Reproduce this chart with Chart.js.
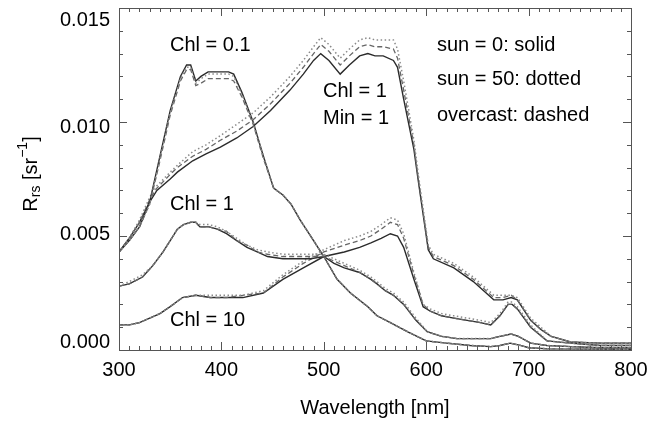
<!DOCTYPE html>
<html>
<head>
<meta charset="utf-8">
<script src="https://cdn.jsdelivr.net/npm/chart.js@4.4.1/dist/chart.umd.min.js"></script>
<style>
  html, body { margin: 0; padding: 0; background: #fff; }
  #wrap { width: 660px; height: 423px; }
</style>
</head>
<body>
<div id="wrap"><canvas id="rrs_chart" width="660" height="423"></canvas></div>
<script>
// tick labels
var wavelengthTicks = [300, 400, 500, 600, 700, 800];
var rrsTicks = [0.000, 0.005, 0.010, 0.015];

// Chl = 0.1
var chl01Wl = [300,310,320,330,340,350,360,366,370,375,380,387,395,407,412,420,431,441,451,460,468,477,490,500,513,526,543,552,565,582,600,620,643,663,672,682,692,700,720,760,800];
var chl01Solid  = [0.0043,0.0048,0.0054,0.0065,0.0085,0.0105,0.0120,0.0125,0.0125,0.0118,0.0120,0.0122,0.0122,0.0122,0.0121,0.0113,0.0100,0.0085,0.0071,0.0068,0.0064,0.0057,0.0048,0.0041,0.0031,0.0025,0.0019,0.0015,0.0012,0.0008,0.0004,0.0003,0.0002,0.00015,0.0002,0.0003,0.0002,0.0001,0.00005,0.00004,0.00003];
var chl01Dotted = [0.0043,0.0048,0.0054,0.0064,0.0084,0.0104,0.0119,0.0124,0.0124,0.0117,0.0119,0.0121,0.0121,0.0121,0.0120,0.0112,0.0100,0.0085,0.0071,0.0068,0.0064,0.0057,0.0048,0.0041,0.0031,0.0025,0.0019,0.0015,0.0012,0.0008,0.0004,0.0003,0.0002,0.00015,0.0002,0.0003,0.0002,0.0001,0.00005,0.00004,0.00003];
var chl01Dashed = [0.0043,0.0048,0.0054,0.0064,0.0083,0.0103,0.0118,0.0123,0.0123,0.0116,0.0117,0.0119,0.0119,0.0119,0.0118,0.0111,0.0099,0.0084,0.0071,0.0068,0.0064,0.0057,0.0048,0.0041,0.0031,0.0025,0.0019,0.0015,0.0012,0.0008,0.0004,0.0003,0.0002,0.00015,0.0002,0.0003,0.0002,0.0001,0.00005,0.00004,0.00003];

// Chl = 1
var chl1Wl = [300,310,323,333,343,350,357,363,370,375,379,388,396,405,415,425,435,445,460,475,487,500,510,520,535,546,552,560,568,578,590,601,615,630,645,663,672,683,690,702,718,741,770,800];
var chl1Solid  = [0.0028,0.0029,0.0032,0.0037,0.0043,0.0048,0.0053,0.0055,0.0056,0.0056,0.0054,0.0054,0.0053,0.0051,0.0048,0.0045,0.0043,0.0041,0.0040,0.0040,0.0040,0.0041,0.0038,0.0036,0.0034,0.0031,0.0029,0.0026,0.0024,0.0020,0.0013,0.0008,0.0006,0.0005,0.0005,0.0005,0.0006,0.0007,0.0006,0.0003,0.0002,0.00015,0.0001,0.0001];
var chl1Dotted = [0.0028,0.0030,0.0033,0.0037,0.0043,0.0048,0.0053,0.0055,0.0056,0.0056,0.0055,0.0055,0.0054,0.0052,0.0049,0.0046,0.0044,0.0043,0.0042,0.0042,0.0042,0.0042,0.0040,0.0038,0.0035,0.0032,0.0030,0.0027,0.0025,0.0021,0.0014,0.0008,0.0006,0.0005,0.0005,0.0005,0.0006,0.0007,0.0006,0.0003,0.0002,0.00015,0.0001,0.0001];
var chl1Dashed = [0.0028,0.0029,0.0032,0.0037,0.0043,0.0048,0.0053,0.0055,0.0056,0.0056,0.0054,0.0054,0.0053,0.0052,0.0048,0.0046,0.0043,0.0042,0.0041,0.0041,0.0041,0.0041,0.0039,0.0037,0.0034,0.0031,0.0029,0.0026,0.0024,0.0020,0.0013,0.0008,0.0006,0.0005,0.0005,0.0005,0.0006,0.0007,0.0006,0.0003,0.0002,0.00015,0.0001,0.0001];

// Chl = 10
var chl10Wl = [300,310,320,330,340,350,362,375,389,405,421,441,460,480,500,520,535,546,556,565,572,578,588,597,604,615,627,640,653,663,672,680,684,689,702,718,741,770,800];
var chl10Solid  = [0.0011,0.0011,0.0012,0.0014,0.0016,0.0019,0.0023,0.0024,0.0023,0.0023,0.0023,0.0025,0.0031,0.0036,0.0041,0.0043,0.0045,0.0047,0.0049,0.0051,0.0050,0.0045,0.0031,0.0019,0.0017,0.0015,0.0014,0.0013,0.0012,0.0011,0.0015,0.0020,0.0020,0.0018,0.0010,0.0004,0.0003,0.0002,0.0002];
var chl10Dotted = [0.0011,0.0011,0.0012,0.0014,0.0016,0.0019,0.0023,0.0024,0.0024,0.0024,0.0024,0.0026,0.0033,0.0039,0.0044,0.0048,0.0050,0.0052,0.0055,0.0058,0.0057,0.0051,0.0034,0.0020,0.0018,0.0016,0.0015,0.0014,0.0013,0.0012,0.0016,0.0021,0.0021,0.0019,0.0011,0.0004,0.0003,0.0002,0.0002];
var chl10Dashed = [0.0011,0.0011,0.0012,0.0014,0.0016,0.0019,0.0023,0.0024,0.0023,0.0023,0.0024,0.0025,0.0032,0.0038,0.0043,0.0046,0.0048,0.0050,0.0053,0.0056,0.0055,0.0049,0.0033,0.0020,0.0017,0.0015,0.0014,0.0013,0.0012,0.0011,0.0015,0.0020,0.0020,0.0018,0.0010,0.0004,0.0003,0.0002,0.0002];

// Chl = 1, Min = 1
var minWl = [300,310,320,330,337,350,357,372,385,399,415,431,448,467,480,490,497,505,516,525,535,543,550,558,568,572,578,588,592,602,607,627,646,666,675,683,689,702,712,722,741,770,800];
var minSolid  = [0.0043,0.0049,0.0056,0.0065,0.0070,0.0075,0.0078,0.0083,0.0086,0.0089,0.0093,0.0098,0.0105,0.0114,0.0121,0.0127,0.0130,0.0127,0.0121,0.0125,0.0129,0.0130,0.0129,0.0129,0.0127,0.0124,0.0110,0.0088,0.0075,0.0044,0.0040,0.0036,0.0030,0.0022,0.0022,0.0023,0.0022,0.0013,0.0009,0.0006,0.00035,0.0003,0.0003];
var minDotted = [0.0043,0.0049,0.0057,0.0067,0.0072,0.0078,0.0081,0.0087,0.0090,0.0094,0.0099,0.0104,0.0111,0.0120,0.0127,0.0133,0.0137,0.0134,0.0128,0.0132,0.0136,0.0137,0.0136,0.0136,0.0136,0.0132,0.0118,0.0092,0.0078,0.0046,0.0042,0.0038,0.0032,0.0024,0.0024,0.0024,0.0023,0.0014,0.0010,0.0006,0.00035,0.0003,0.0003];
var minDashed = [0.0043,0.0049,0.0056,0.0066,0.0071,0.0077,0.0080,0.0085,0.0088,0.0092,0.0096,0.0101,0.0108,0.0117,0.0124,0.0130,0.0134,0.0131,0.0125,0.0129,0.0133,0.0134,0.0133,0.0133,0.0132,0.0128,0.0114,0.0090,0.0076,0.0045,0.0041,0.0037,0.0031,0.0023,0.0023,0.0024,0.0022,0.0013,0.0009,0.0006,0.00035,0.0003,0.0003];

var FONT = '"Liberation Sans", Arial, Helvetica, sans-serif';

function pts(wl, vals) {
    return wl.map(function (w, i) { return {x: w, y: vals[i]}; });
}

function ds(wl, vals, style) {
    var d = {data: pts(wl, vals), pointRadius: 0, tension: 0, fill: false};
    if (style === 'dotted') {
        d.borderColor = '#8a8a8a'; d.borderWidth = 1.5; d.borderDash = [1.5, 2.5];
    } else if (style === 'dashed') {
        d.borderColor = '#666'; d.borderWidth = 1.3; d.borderDash = [5, 3];
    } else {
        d.borderColor = '#2b2b2b'; d.borderWidth = 1.4;
    }
    return d;
}

var frame = {
    id: 'frame',
    afterDatasetsDraw: function (chart) {
        var ctx = chart.ctx, a = chart.chartArea;
        var x = chart.scales.x, y = chart.scales.y;
        ctx.save();
        ctx.strokeStyle = '#555';
        ctx.lineWidth = 1;
        ctx.strokeRect(a.left + 0.5, a.top + 0.5, a.right - a.left, a.bottom - a.top);

        ctx.beginPath();
        for (var w = 300; w <= 800; w += 10) {
            var px = Math.round(x.getPixelForValue(w)) + 0.5;
            var len = (w % 100 === 0) ? 8 : 4;
            ctx.moveTo(px, a.bottom); ctx.lineTo(px, a.bottom - len);
            ctx.moveTo(px, a.top); ctx.lineTo(px, a.top + len);
        }
        for (var k = 0; k <= 15; k++) {
            var v = k * 0.001;
            var py = Math.round(y.getPixelForValue(v)) + 0.5;
            var l2 = (k % 5 === 0) ? 8 : 4;
            ctx.moveTo(a.left, py); ctx.lineTo(a.left + l2, py);
            ctx.moveTo(a.right, py); ctx.lineTo(a.right - l2, py);
        }
        ctx.stroke();

        ctx.fillStyle = '#000';
        ctx.font = '20px ' + FONT;
        ctx.textAlign = 'center';
        ctx.textBaseline = 'middle';
        wavelengthTicks.forEach(function (t) {
            ctx.fillText(String(t), x.getPixelForValue(t), a.bottom + 20);
        });
        ctx.textAlign = 'right';
        rrsTicks.forEach(function (t) {
            var py = y.getPixelForValue(t);
            var ly = a.top + 12 + (py - a.top) * (322 / 342);
            ctx.fillText(t.toFixed(3), a.left - 9, ly);
        });
        ctx.textAlign = 'center';
        ctx.fillText('Wavelength [nm]', (a.left + a.right) / 2, 408);

        // y title with sub/superscript
        ctx.save();
        ctx.translate(31, 174);
        ctx.rotate(-Math.PI / 2);
        var parts = [['R', 20, 0], ['rs', 14, 5], [' [sr', 20, 0], ['\u22121', 14, -8], [']', 20, 0]];
        var total = 0;
        parts.forEach(function (p) { ctx.font = p[1] + 'px ' + FONT; total += ctx.measureText(p[0]).width; });
        var cx = -total / 2;
        ctx.textAlign = 'left';
        parts.forEach(function (p) {
            ctx.font = p[1] + 'px ' + FONT;
            ctx.fillText(p[0], cx, p[2]);
            cx += ctx.measureText(p[0]).width;
        });
        ctx.restore();

        // annotations
        ctx.font = '20px ' + FONT;
        ctx.textAlign = 'left';
        ctx.fillText('Chl = 0.1', 170, 45);
        ctx.fillText('Chl = 1', 323, 91);
        ctx.fillText('Min = 1', 323, 118);
        ctx.fillText('sun = 0: solid', 437, 45);
        ctx.fillText('sun = 50: dotted', 437, 79);
        ctx.fillText('overcast: dashed', 437, 115);
        ctx.fillText('Chl = 1', 170, 204);
        ctx.fillText('Chl = 10', 170, 320);
        ctx.restore();
    }
};

var ctx = document.getElementById('rrs_chart').getContext('2d');
var rrsChart = new Chart(ctx, {
    type: 'line',
    data: {
        datasets: [
            ds(chl01Wl, chl01Dotted, 'dotted'), ds(chl01Wl, chl01Dashed, 'dashed'), ds(chl01Wl, chl01Solid, 'solid'),
            ds(chl1Wl, chl1Dotted, 'dotted'), ds(chl1Wl, chl1Dashed, 'dashed'), ds(chl1Wl, chl1Solid, 'solid'),
            ds(chl10Wl, chl10Dotted, 'dotted'), ds(chl10Wl, chl10Dashed, 'dashed'), ds(chl10Wl, chl10Solid, 'solid'),
            ds(minWl, minDotted, 'dotted'), ds(minWl, minDashed, 'dashed'), ds(minWl, minSolid, 'solid')
        ]
    },
    options: {
        responsive: false,
        animation: false,
        layout: {padding: {left: 119, right: 29, top: 8, bottom: 73}},
        plugins: {legend: {display: false}, tooltip: {enabled: false}},
        scales: {
            x: {type: 'linear', min: 300, max: 800, display: false},
            y: {type: 'linear', min: 0, max: 0.015, display: false}
        }
    },
    plugins: [frame]
});
</script>
</body>
</html>
